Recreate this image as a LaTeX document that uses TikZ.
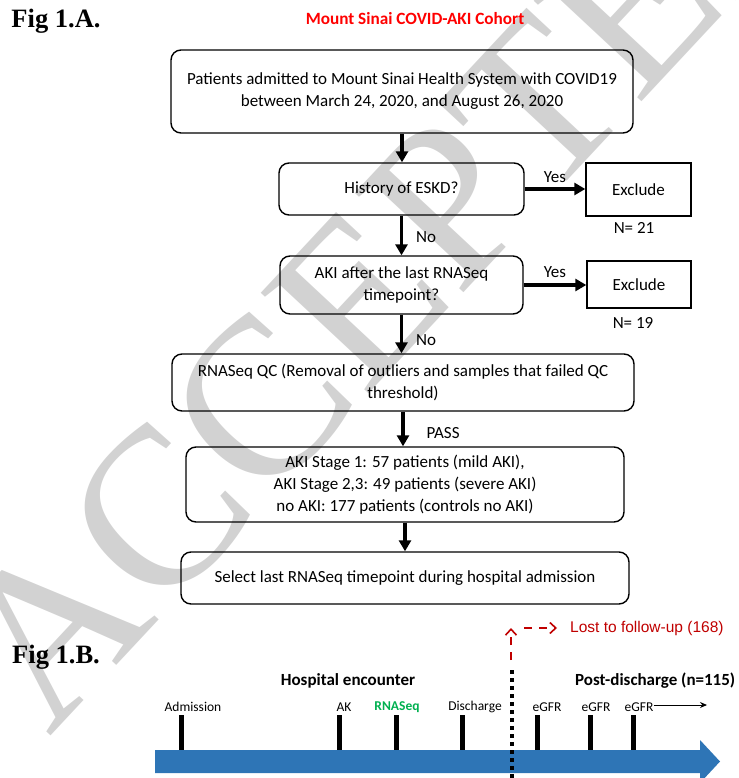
\documentclass[tikz,border=0pt]{standalone}
\usepackage{fontspec}
\setmainfont{Carlito}
\newfontfamily\figfont{Liberation Serif}
\newfontfamily\arialfont{Liberation Sans}
\usetikzlibrary{arrows.meta}
\definecolor{titlered}{HTML}{FF0000}
\definecolor{lostred}{HTML}{C00000}
\definecolor{rnagreen}{HTML}{00B050}
\definecolor{barblue}{HTML}{2E75B6}
\definecolor{wmgray}{HTML}{D2D2D2}
\tikzset{flowbox/.style={draw,line width=1.4pt,rounded corners=10pt,align=center,inner sep=0pt,
        font=\fontsize{17}{22}\selectfont},
    exclbox/.style={draw,line width=1.4pt,align=center,inner sep=0pt,font=\fontsize{17}{22}\selectfont},
    flowarrow/.style={line width=3.2pt,-{Triangle[width=12pt,length=11pt]}},
    branch/.style={inner sep=0pt,font=\fontsize{17}{20}\selectfont},
    figlabel/.style={inner sep=0pt,font=\figfont\bfseries\fontsize{26.5}{30}\selectfont},
    eventlabel/.style={inner sep=0pt,font=\fontsize{13.5}{16}\selectfont},
    phaselabel/.style={inner sep=0pt,font=\bfseries\fontsize{17}{20}\selectfont},
    tickmark/.style={line width=5pt},
    lostarrow/.style={lostred,line width=1.6pt,dash pattern=on 8pt off 7pt,-{Straight Barb[length=6pt,width=11pt]}},
    watermark/.style={inner sep=0pt,text=wmgray,font=\figfont\fontsize{225}{225}\selectfont}}

\begin{document}
\begin{tikzpicture}[x=1pt,y=-1pt]
      \useasboundingbox (0,0) rectangle (738,778);
      \node[watermark,rotate=47] (accepted) at (392,262) {ACCEPTED};
      \node[figlabel] (figA) at (56,21) {Fig 1.A.};
      \node[inner sep=0pt,text=titlered,font=\bfseries\fontsize{17.2}{20}\selectfont] (cohort) at (415,19) {Mount Sinai COVID-AKI Cohort};
      \node[flowbox,minimum width=462pt,minimum height=83pt] (admit) at (402,91.5) {Patients admitted to Mount Sinai Health System with COVID19\\between March 24, 2020, and August 26, 2020};
      \node[flowbox,minimum width=245pt,minimum height=52pt] (eskd) at (401.5,189) {History of ESKD?};
      \node[exclbox,minimum width=105pt,minimum height=53pt] (exclA) at (638.5,189.5) {Exclude};
      \node[branch] (nA) at (634,228) {N= 21};
      \node[flowbox,minimum width=243pt,minimum height=58pt] (akilast) at (401.5,285) {AKI after the last RNASeq\\timepoint?};
      \node[exclbox,minimum width=104pt,minimum height=47pt] (exclB) at (639,284.5) {Exclude};
      \node[branch] (nB) at (633,323) {N= 19};
      \node[flowbox,minimum width=462pt,minimum height=57pt] (qc) at (403,382.5) {RNASeq QC (Removal of outliers and samples that failed QC\\threshold)};
      \node[flowbox,minimum width=438pt,minimum height=75pt] (groups) at (405,484.5) {AKI Stage 1: 57 patients (mild AKI),\\AKI Stage 2,3: 49 patients (severe AKI)\\no AKI: 177 patients (controls no AKI)};
      \node[flowbox,minimum width=448pt,minimum height=52pt] (select) at (405,578) {Select last RNASeq timepoint during hospital admission};
      \draw[flowarrow] (admit.south) -- (admit.south |- eskd.north);
      \draw[flowarrow] (eskd.east) -- node[branch,above=5pt] {Yes} (eskd.east -| exclA.west);
      \draw[flowarrow] (eskd.south) -- node[branch,right=13pt,pos=0.55] {No} (eskd.south |- akilast.north);
      \draw[flowarrow] (akilast.east) -- node[branch,above=6pt] {Yes} (akilast.east -| exclB.west);
      \draw[flowarrow] (akilast.south) -- node[branch,right=13pt,pos=0.65] {No} (akilast.south |- qc.north);
      \draw[flowarrow] (qc.south) -- node[branch,right=22pt,pos=0.62] {PASS} (qc.south |- groups.north);
      \draw[flowarrow] (groups.south) -- (groups.south |- select.north);
      % timeline
      \node[figlabel] (figB) at (56,657) {Fig 1.B.};
      \fill[barblue] (155,750) -- (700,750) -- (700,740) -- (720,761.5) -- (700,783) -- (700,773) -- (155,773) -- cycle;
      \foreach \t in {181,339,396,462,537,590,633}
      {\draw[tickmark] (\t,715) -- (\t,750);}
      \node[phaselabel] (hospital) at (348,681) {Hospital encounter};
      \node[phaselabel,anchor=west] (postdis) at (575,681) {Post-discharge (n=115)};
      \node[eventlabel] (admission) at (193,707) {Admission};
      \node[eventlabel] (ak) at (344,707) {AK};
      \node[eventlabel,text=rnagreen,font=\bfseries\fontsize{13.5}{16}\selectfont] (rnaseq) at (397,707) {RNASeq};
      \node[eventlabel] (discharge) at (475,707) {Discharge};
      \node[eventlabel] (egfrA) at (547,707) {eGFR};
      \node[eventlabel] (egfrB) at (596,707) {eGFR};
      \node[eventlabel] (egfrC) at (639,707) {eGFR};
      \coordinate (followup) at (707,705);
      \draw[line width=0.9pt,-{Stealth[length=7pt,width=6pt]}] (egfrC.east |- followup) -- (followup);
      \draw[line width=4pt,dash pattern=on 4pt off 4pt] (512,670) -- (512,778);
      \coordinate (lostbase) at (511,660);
      \coordinate (losttop) at (511,628);
      \coordinate (lostturn) at (524,628);
      \node[inner sep=0pt,anchor=west,text=lostred,font=\arialfont\fontsize{15.5}{18}\selectfont] (lost) at (570,628) {Lost to follow-up (168)};
      \draw[lostarrow] (lostbase) -- (losttop);
      \draw[lostarrow,shorten >=13pt] (lostturn) -- (lost.west);
\end{tikzpicture}
\end{document}
